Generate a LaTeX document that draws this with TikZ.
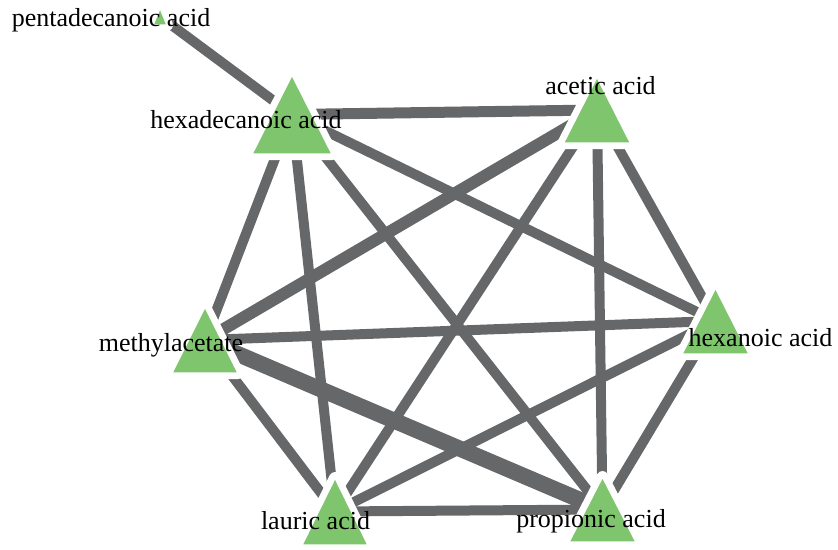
\documentclass[tikz,border=0pt]{standalone}
\usepackage{fontspec}
\setmainfont{Liberation Serif}
\definecolor{edgegray}{RGB}{102,103,105}
\definecolor{nodegreen}{RGB}{127,197,110}
\tikzset{
  edge/.style={draw=edgegray, line width=10pt},
  halo/.style={draw=white, line width=12pt, line join=round},
  tri/.style={fill=nodegreen, draw=white, line width=1.5pt, line join=round},
  lbl/.style={anchor=base, inner sep=0pt, font=\fontsize{26}{30}\selectfont}
}
\begin{document}
\begin{tikzpicture}[x=1pt,y=-1pt]
\useasboundingbox (0,0) rectangle (838,549);
% node centres
\coordinate (penta) at (160,16.5);
\coordinate (hexa) at (292,114.5);
\coordinate (acetic) at (597,110);
\coordinate (methyl) at (205,340);
\coordinate (lauric) at (335,511.5);
\coordinate (prop) at (602.5,509.5);
\coordinate (hexan) at (715.5,321);
% edges
\draw[edge] (penta) -- (hexa);
\draw[edge, line width=11pt] (hexa) -- (acetic);
\draw[edge] (hexa) -- (hexan);
\draw[edge] (hexa) -- (methyl);
\draw[edge] (hexa) -- (lauric);
\draw[edge] (hexa) -- (prop);
\draw[edge, line width=12pt] (acetic) -- (methyl);
\draw[edge] (acetic) -- (lauric);
\draw[edge] (acetic) -- (prop);
\draw[edge] (acetic) -- (hexan);
\draw[edge] (methyl) -- (hexan);
\draw[edge, line width=16pt] (methyl) -- (prop);
\draw[edge] (methyl) -- (lauric);
\draw[edge] (lauric) -- (hexan);
\draw[edge] (lauric) -- (prop);
\draw[edge] (hexan) -- (prop);
% triangles
\foreach \x/\y/\w/\h in {160/16.5/14/17, 292/114.5/80/79, 597/110/67/66, 205/340/66/66, 335/511.5/66/67, 602.5/509.5/67/65, 715.5/321/67/66} {
  \path[halo] (\x-\w/2,\y+\h/2) -- ++(\w/2,-\h) -- ++(\w/2,\h) -- cycle;
}
\foreach \x/\y/\w/\h in {160/16.5/14/17, 292/114.5/80/79, 597/110/67/66, 205/340/66/66, 335/511.5/66/67, 602.5/509.5/67/65, 715.5/321/67/66} {
  \path[tri] (\x-\w/2,\y+\h/2) -- ++(\w/2,-\h) -- ++(\w/2,\h) -- cycle;
}
% labels
\node[lbl] (tpenta) at (111,26.7) {pentadecanoic acid};
\node[lbl] (thexa) at (246,128) {hexadecanoic acid};
\node[lbl] (tacetic) at (600.5,94) {acetic acid};
\node[lbl] (tmethyl) at (171,351) {methylacetate};
\node[lbl] (tlauric) at (315.5,529) {lauric acid};
\node[lbl] (tprop) at (591,527) {propionic acid};
\node[lbl] (thexan) at (760.5,346) {hexanoic acid};
\end{tikzpicture}
\end{document}
